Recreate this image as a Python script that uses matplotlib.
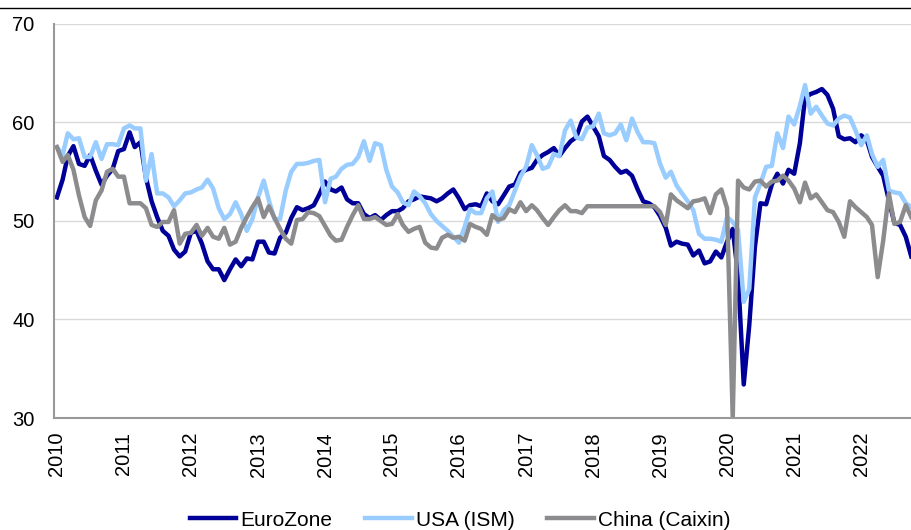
import matplotlib
matplotlib.use('Agg')
import matplotlib.pyplot as plt
from matplotlib.lines import Line2D
import pandas as pd

plt.rcParams['font.family'] = ['Liberation Sans', 'DejaVu Sans']

months = pd.date_range('2010-01-01', periods=154, freq='MS')

eurozone = [
    52.4, 54.2, 56.6, 57.6, 55.8, 55.6, 56.7, 55.1, 53.7, 54.6, 55.3, 57.1,
    57.3, 59.0, 57.5, 58.0, 54.4, 52.0, 50.4, 49.0, 48.5, 47.1, 46.4, 46.9,
    48.8, 49.0, 47.7, 45.9, 45.1, 45.1, 44.0, 45.1, 46.1, 45.4, 46.2, 46.1,
    47.9, 47.9, 46.8, 46.7, 48.3, 48.8, 50.3, 51.4, 51.1, 51.3, 51.6, 52.7,
    54.0, 53.2, 53.0, 53.4, 52.2, 51.8, 51.8, 50.7, 50.3, 50.6, 50.1, 50.6,
    51.0, 51.0, 51.3, 52.0, 52.2, 52.5, 52.4, 52.3, 52.0, 52.3, 52.8, 53.2,
    52.3, 51.2, 51.6, 51.7, 51.5, 52.8, 52.0, 51.7, 52.6, 53.5, 53.7, 54.9,
    55.2, 55.4, 56.2, 56.7, 57.0, 57.4, 56.6, 57.4, 58.1, 58.5, 60.1, 60.6,
    59.6, 58.6, 56.6, 56.2, 55.5, 54.9, 55.1, 54.6, 53.2, 52.0, 51.8, 51.4,
    50.5, 49.3, 47.5, 47.9, 47.7, 47.6, 46.5, 47.0, 45.7, 45.9, 46.9, 46.3,
    47.9, 49.2, 44.5, 33.4, 39.4, 47.4, 51.8, 51.7, 53.7, 54.8, 53.8, 55.2,
    54.8, 57.9, 62.5, 62.9, 63.1, 63.4, 62.8, 61.4, 58.6, 58.3, 58.4, 58.0,
    58.7, 58.2, 56.5, 55.5, 54.6, 52.1, 49.8, 49.6, 48.4, 46.4,
]

usa_ism = [
    57.5, 56.7, 58.9, 58.3, 58.4, 56.5, 56.5, 58.0, 56.3, 57.8, 57.8, 57.7,
    59.4, 59.7, 59.4, 59.4, 54.1, 56.8, 52.8, 52.8, 52.4, 51.5, 52.1, 52.8,
    52.9, 53.2, 53.4, 54.2, 53.3, 51.3, 50.2, 50.7, 51.9, 50.7, 49.0, 50.2,
    52.4, 54.1, 52.1, 50.2, 50.2, 53.1, 55.0, 55.8, 55.8, 55.9, 56.1, 56.2,
    51.9, 54.3, 54.5, 55.3, 55.7, 55.8, 56.5, 58.1, 56.1, 57.9, 57.7, 55.2,
    53.5, 52.9, 51.9, 51.6, 53.0, 52.5, 51.8, 50.7, 50.0, 49.5, 49.0, 48.4,
    47.8, 49.4, 51.2, 50.8, 50.8, 52.3, 53.0, 49.9, 51.1, 51.6, 53.1, 54.5,
    55.5, 57.7, 56.7, 55.3, 55.5, 56.8, 56.6, 59.2, 60.2, 58.5, 58.3, 59.5,
    59.6, 60.9, 58.9, 58.7, 58.9, 59.8, 58.2, 60.4, 59.0, 58.0, 58.0, 57.9,
    55.8, 54.4, 55.0, 53.6, 52.8, 52.0, 51.1, 48.7, 48.2, 48.2, 48.1, 47.9,
    50.4, 49.9, 49.1, 41.8, 43.1, 52.4, 53.8, 55.5, 55.6, 58.9, 57.4, 60.6,
    59.8, 61.7, 63.8, 60.9, 61.6, 60.7, 59.9, 59.7, 60.4, 60.7, 60.5, 59.2,
    57.7, 58.7, 56.8, 55.5, 56.2, 53.1, 52.9, 52.8, 51.8, 51.4,
]

china_caixin = [
    57.5, 56.0, 56.7, 55.2, 52.6, 50.4, 49.5, 52.1, 53.1, 55.0, 55.3, 54.5,
    54.5, 51.8, 51.8, 51.8, 51.3, 49.6, 49.4, 49.9, 49.9, 51.1, 47.7, 48.7,
    48.8, 49.6, 48.5, 49.3, 48.4, 48.2, 49.3, 47.6, 47.9, 49.3, 50.4, 51.4,
    52.3, 50.4, 51.5, 50.3, 49.2, 48.2, 47.7, 50.1, 50.2, 50.9, 50.8, 50.5,
    49.5, 48.5, 48.0, 48.1, 49.4, 50.6, 51.6, 50.2, 50.2, 50.4, 50.0, 49.6,
    49.7, 50.7, 49.6, 48.9, 49.2, 49.4, 47.8, 47.3, 47.2, 48.3, 48.6, 48.3,
    48.4, 48.0, 49.7, 49.4, 49.2, 48.6, 50.6, 50.1, 50.3, 51.2, 50.9, 51.9,
    51.0, 51.6, 51.1, 50.3, 49.6, 50.4, 51.1, 51.6, 51.0, 51.0, 50.8, 51.5,
    51.5, 51.5, 51.5, 51.5, 51.5, 51.5, 51.5, 51.5, 51.5, 51.5, 51.5, 51.5,
    50.9, 49.6, 52.7, 52.1, 51.7, 51.3, 52.0, 52.1, 52.3, 50.8, 52.7, 53.2,
    51.3, 30.0, 54.1, 53.4, 53.2, 54.0, 54.1, 53.5, 54.0, 54.1, 54.6, 54.1,
    53.3, 51.9, 53.9, 52.3, 52.7, 51.9, 51.1, 50.9, 49.9, 48.4, 52.0, 51.4,
    50.9, 50.4, 49.6, 44.3, 48.0, 52.8, 49.7, 49.9, 51.6, 50.4,
]

years = list(range(2010, 2023))

fig = plt.figure(figsize=(9.12, 5.30), dpi=100)
ax = fig.add_axes([54 / 912, 1 - 418 / 530, 1 - 54 / 912, (418 - 24) / 530])

ax.plot(months, eurozone, color='#000099', lw=3.2, label='EuroZone')
ax.plot(months, usa_ism, color='#99ccff', lw=3.2, label='USA (ISM)')
ax.plot(months, china_caixin, color='#8c8c8f', lw=3.2, label='China (Caixin)')

ax.set_ylim(30, 70)
ax.set_yticks([30, 40, 50, 60, 70])
ax.set_xlim(pd.Timestamp('2009-12-16'), pd.Timestamp('2022-10-05'))
ax.set_xticks([pd.Timestamp(f'{y}-01-01') for y in years])
ax.set_xticklabels([str(y) for y in years], rotation=90)

ax.tick_params(axis='x', length=0, pad=10, labelsize=14.5)
ax.tick_params(axis='y', length=0, pad=14, labelsize=14.5)
ax.grid(axis='y', color='#d9d9d9', lw=1)
ax.set_axisbelow(True)
for side in ['top', 'right']:
    ax.spines[side].set_visible(False)
for side in ['left', 'bottom']:
    ax.spines[side].set_color('#999999')
    ax.spines[side].set_linewidth(1.5)

fig.legend(loc='center', bbox_to_anchor=(460 / 912, 1 - 520 / 530), ncol=3,
           frameon=False, fontsize=15, handlelength=2.25, handletextpad=0.2,
           columnspacing=1.55, borderaxespad=0)

fig.add_artist(Line2D([0, 1], [1 - 7.5 / 530] * 2, color='black', lw=1))

fig.savefig('out.png', dpi=100)
